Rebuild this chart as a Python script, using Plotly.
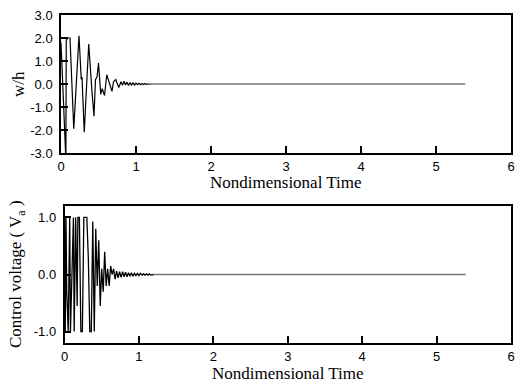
import plotly.graph_objects as go

# ---- data ----
t_w = [0.00, 0.065, 0.07, 0.09, 0.12, 0.17, 0.24, 0.27, 0.28, 0.31, 0.35, 0.37, 0.41, 0.44,
       0.46, 0.48, 0.50, 0.53, 0.55, 0.58, 0.61, 0.64, 0.68, 0.70, 0.73, 0.77, 0.80, 0.82,
       0.84, 0.86, 0.88, 0.90, 0.92, 0.94, 0.96, 0.98, 1.00, 1.02, 1.04, 1.06, 1.08, 1.10,
       1.12, 1.14, 1.16, 1.18, 1.20]
w_h = [1.80, -3.30, 1.90, 2.00, 2.00, -1.95, 2.10, 0.20, 0.30, -2.10, 0.50, 1.74, -0.20, -1.40,
       0.20, 0.30, 0.91, -0.45, -0.20, -0.50, 0.40, 0.10, -0.32, 0.10, 0.19, -0.15, 0.10, -0.05,
       0.12, -0.04, 0.08, -0.06, 0.06, -0.05, 0.05, -0.04, 0.04, -0.03, 0.03, -0.03, 0.02, -0.02,
       0.02, -0.02, 0.01, -0.01, 0.00]

t_v = [0.00, 0.01, 0.02, 0.03, 0.05, 0.07, 0.08, 0.10, 0.12, 0.13, 0.15, 0.17, 0.18, 0.20,
       0.22, 0.24, 0.26, 0.28, 0.30, 0.32, 0.34, 0.36, 0.38, 0.40, 0.42, 0.44, 0.46, 0.48,
       0.50, 0.52, 0.54, 0.56, 0.58, 0.60, 0.62, 0.64, 0.66, 0.68, 0.70, 0.72, 0.74, 0.76,
       0.78, 0.80, 0.82, 0.84, 0.86, 0.88, 0.90, 0.92, 0.94, 0.96, 0.98, 1.00, 1.02, 1.04,
       1.06, 1.08, 1.10, 1.12, 1.14, 1.16, 1.18, 1.20]
v_a = [1.00, -1.00, 1.00, -0.30, -1.00, 1.00, -1.00, 0.20, 1.00, -1.00, 1.00, -0.55, 1.00, 1.00,
       -1.00, -1.00, 1.00, 1.00, 1.00, 0.30, -1.00, -1.00, 0.93, -1.00, 0.80, -0.20, 0.60, -0.55,
       0.10, -0.30, 0.40, -0.20, 0.10, -0.20, 0.15, 0.00, 0.10, -0.08, 0.06, -0.06, 0.05, -0.05,
       0.05, -0.04, 0.04, -0.04, 0.03, -0.03, 0.03, -0.03, 0.02, -0.02, 0.02, -0.02, 0.02, -0.01,
       0.01, -0.01, 0.01, -0.01, 0.01, -0.01, 0.00, 0.00]

t_tail = [1.20, 5.39]
tail_vals = [0.00, 0.00]

x_ticks = [0, 1, 2, 3, 4, 5, 6]
w_ticks = [3.0, 2.0, 1.0, 0.0, -1.0, -2.0, -3.0]
w_labels = ["3.0", "2.0", "1.0", "0.0", "-1.0", "-2.0", "-3.0"]
v_ticks = [1.0, 0.0, -1.0]
v_labels = ["1.0", "0.0", "-1.0"]

x_title = "Nondimensional Time"
w_title = "w/h"
v_title = "Control voltage ( V<sub>a</sub> )"

W, H = 516, 383
ML, MR, MT, MB = 61, 5, 15, 40
pw = W - ML - MR
ph = H - MT - MB

fig = go.Figure()
fig.add_trace(go.Scatter(x=t_w, y=w_h, mode="lines", line=dict(color="black", width=1.2),
                         xaxis="x", yaxis="y", showlegend=False))
fig.add_trace(go.Scatter(x=t_tail, y=tail_vals, mode="lines", line=dict(color="#777", width=1.5),
                         xaxis="x", yaxis="y", showlegend=False))
fig.add_trace(go.Scatter(x=t_v, y=v_a, mode="lines", line=dict(color="black", width=1.3),
                         xaxis="x2", yaxis="y2", showlegend=False))
fig.add_trace(go.Scatter(x=t_tail, y=tail_vals, mode="lines", line=dict(color="#777", width=1.5),
                         xaxis="x2", yaxis="y2", showlegend=False))

tickfont = dict(family="Liberation Sans, Arial", size=13, color="black")
titlefont = dict(family="Liberation Serif, Times New Roman", size=17, color="black")

axis_common = dict(showline=True, linecolor="black", linewidth=1.5, mirror=True,
                   ticks="inside", ticklen=7, tickwidth=1.5, tickcolor="black",
                   showgrid=False, zeroline=False, tickfont=tickfont, automargin=False)


def px_to_paper_y(py):
    return (H - MB - py) / ph


def px_to_paper_x(px):
    return (px - ML) / pw


top_bottom = px_to_paper_y(153)
bot_top = px_to_paper_y(206)
bx0 = px_to_paper_x(64.5)

fig.update_layout(
    width=W, height=H, margin=dict(l=ML, r=MR, t=MT, b=MB, autoexpand=False),
    paper_bgcolor="white", plot_bgcolor="white",
    xaxis=dict(domain=[0, 1], range=[0, 6], tickvals=x_ticks, anchor="y",
               ticklabelstandoff=1, **axis_common),
    yaxis=dict(domain=[top_bottom, 1], range=[-3, 3], tickvals=w_ticks, ticktext=w_labels,
               anchor="x", ticklabelstandoff=4, **axis_common),
    xaxis2=dict(domain=[bx0, 1], range=[0, 6], tickvals=x_ticks, anchor="y2",
                ticklabelstandoff=1, **axis_common),
    yaxis2=dict(domain=[0, bot_top], range=[-1.2, 1.2], tickvals=v_ticks, ticktext=v_labels,
                anchor="x2", ticklabelstandoff=4, **axis_common),
)

annots = [
    dict(text=x_title, x=px_to_paper_x(286), y=px_to_paper_y(182), textangle=0),
    dict(text=x_title, x=px_to_paper_x(288), y=px_to_paper_y(373), textangle=0),
    dict(text=w_title, x=px_to_paper_x(19), y=px_to_paper_y(84), textangle=-90),
    dict(text=v_title, x=px_to_paper_x(17), y=px_to_paper_y(274), textangle=-90),
]
for a in annots:
    fig.add_annotation(xref="paper", yref="paper", xanchor="center", yanchor="middle",
                       showarrow=False, font=titlefont, **a)

fig.write_html("out.html", config={"displayModeBar": False},
               post_script="document.body.style.margin='0';document.body.style.padding='0';")
